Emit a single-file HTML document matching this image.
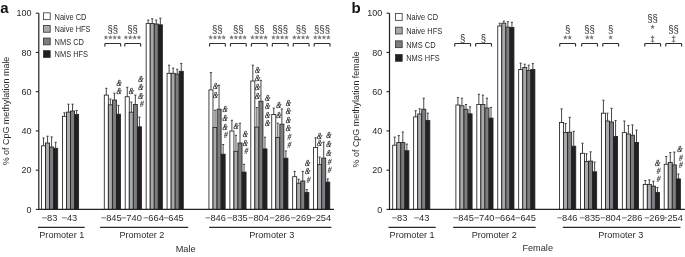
<!DOCTYPE html>
<html><head><meta charset="utf-8"><style>
html,body{margin:0;padding:0;background:#fff;}
svg{display:block;will-change:transform;}
</style></head><body>
<svg width="685" height="257" viewBox="0 0 685 257">
<rect width="685" height="257" fill="#fff"/>
<rect x="41.50" y="145.80" width="4.05" height="63.60" fill="#ffffff" stroke="#222" stroke-width="0.85"/>
<path d="M43.52 145.80 V138.00 M42.42 138.00 H44.62" stroke="#333" stroke-width="0.9" fill="none"/>
<rect x="45.55" y="143.00" width="4.05" height="66.40" fill="#a7a9ac" stroke="#222" stroke-width="0.85"/>
<path d="M47.57 143.00 V136.20 M46.47 136.20 H48.67" stroke="#333" stroke-width="0.9" fill="none"/>
<rect x="49.60" y="147.00" width="4.05" height="62.40" fill="#7c7d80" stroke="#222" stroke-width="0.85"/>
<path d="M51.62 147.00 V136.90 M50.52 136.90 H52.73" stroke="#333" stroke-width="0.9" fill="none"/>
<rect x="53.65" y="148.30" width="4.05" height="61.10" fill="#231f20" stroke="#222" stroke-width="0.85"/>
<path d="M55.67 148.30 V142.30 M54.57 142.30 H56.77" stroke="#333" stroke-width="0.9" fill="none"/>
<rect x="62.43" y="116.30" width="4.05" height="93.10" fill="#ffffff" stroke="#222" stroke-width="0.85"/>
<path d="M64.45 116.30 V112.80 M63.35 112.80 H65.55" stroke="#333" stroke-width="0.9" fill="none"/>
<rect x="66.48" y="112.10" width="4.05" height="97.30" fill="#a7a9ac" stroke="#222" stroke-width="0.85"/>
<path d="M68.51 112.10 V104.20 M67.41 104.20 H69.61" stroke="#333" stroke-width="0.9" fill="none"/>
<rect x="70.53" y="111.00" width="4.05" height="98.40" fill="#7c7d80" stroke="#222" stroke-width="0.85"/>
<path d="M72.56 111.00 V104.20 M71.46 104.20 H73.66" stroke="#333" stroke-width="0.9" fill="none"/>
<rect x="74.58" y="114.50" width="4.05" height="94.90" fill="#231f20" stroke="#222" stroke-width="0.85"/>
<path d="M76.61 114.50 V110.50 M75.51 110.50 H77.70" stroke="#333" stroke-width="0.9" fill="none"/>
<rect x="104.29" y="95.10" width="4.05" height="114.30" fill="#ffffff" stroke="#222" stroke-width="0.85"/>
<path d="M106.31 95.10 V88.30 M105.22 88.30 H107.41" stroke="#333" stroke-width="0.9" fill="none"/>
<rect x="108.34" y="104.80" width="4.05" height="104.60" fill="#a7a9ac" stroke="#222" stroke-width="0.85"/>
<path d="M110.36 104.80 V99.00 M109.27 99.00 H111.46" stroke="#333" stroke-width="0.9" fill="none"/>
<rect x="112.39" y="100.00" width="4.05" height="109.40" fill="#7c7d80" stroke="#222" stroke-width="0.85"/>
<path d="M114.41 100.00 V93.20 M113.31 93.20 H115.51" stroke="#333" stroke-width="0.9" fill="none"/>
<rect x="116.44" y="114.20" width="4.05" height="95.20" fill="#231f20" stroke="#222" stroke-width="0.85"/>
<path d="M118.47 114.20 V105.40 M117.37 105.40 H119.56" stroke="#333" stroke-width="0.9" fill="none"/>
<rect x="125.22" y="96.70" width="4.05" height="112.70" fill="#ffffff" stroke="#222" stroke-width="0.85"/>
<path d="M127.25 96.70 V87.30 M126.15 87.30 H128.34" stroke="#333" stroke-width="0.9" fill="none"/>
<rect x="129.27" y="112.20" width="4.05" height="97.20" fill="#a7a9ac" stroke="#222" stroke-width="0.85"/>
<path d="M131.30 112.20 V102.10 M130.20 102.10 H132.40" stroke="#333" stroke-width="0.9" fill="none"/>
<rect x="133.32" y="104.50" width="4.05" height="104.90" fill="#7c7d80" stroke="#222" stroke-width="0.85"/>
<path d="M135.34 104.50 V95.10 M134.25 95.10 H136.44" stroke="#333" stroke-width="0.9" fill="none"/>
<rect x="137.37" y="126.80" width="4.05" height="82.60" fill="#231f20" stroke="#222" stroke-width="0.85"/>
<path d="M139.40 126.80 V117.10 M138.30 117.10 H140.50" stroke="#333" stroke-width="0.9" fill="none"/>
<rect x="146.15" y="23.60" width="4.05" height="185.80" fill="#ffffff" stroke="#222" stroke-width="0.85"/>
<path d="M148.18 23.60 V20.10 M147.08 20.10 H149.28" stroke="#333" stroke-width="0.9" fill="none"/>
<rect x="150.20" y="23.60" width="4.05" height="185.80" fill="#a7a9ac" stroke="#222" stroke-width="0.85"/>
<path d="M152.23 23.60 V18.80 M151.13 18.80 H153.33" stroke="#333" stroke-width="0.9" fill="none"/>
<rect x="154.25" y="24.00" width="4.05" height="185.40" fill="#7c7d80" stroke="#222" stroke-width="0.85"/>
<path d="M156.28 24.00 V20.10 M155.18 20.10 H157.38" stroke="#333" stroke-width="0.9" fill="none"/>
<rect x="158.30" y="24.80" width="4.05" height="184.60" fill="#231f20" stroke="#222" stroke-width="0.85"/>
<path d="M160.33 24.80 V18.20 M159.23 18.20 H161.43" stroke="#333" stroke-width="0.9" fill="none"/>
<rect x="167.08" y="73.30" width="4.05" height="136.10" fill="#ffffff" stroke="#222" stroke-width="0.85"/>
<path d="M169.10 73.30 V65.20 M168.00 65.20 H170.20" stroke="#333" stroke-width="0.9" fill="none"/>
<rect x="171.13" y="73.30" width="4.05" height="136.10" fill="#a7a9ac" stroke="#222" stroke-width="0.85"/>
<path d="M173.16 73.30 V68.10 M172.06 68.10 H174.25" stroke="#333" stroke-width="0.9" fill="none"/>
<rect x="175.18" y="74.10" width="4.05" height="135.30" fill="#7c7d80" stroke="#222" stroke-width="0.85"/>
<path d="M177.20 74.10 V69.30 M176.10 69.30 H178.30" stroke="#333" stroke-width="0.9" fill="none"/>
<rect x="179.23" y="71.30" width="4.05" height="138.10" fill="#231f20" stroke="#222" stroke-width="0.85"/>
<path d="M181.25 71.30 V63.40 M180.16 63.40 H182.35" stroke="#333" stroke-width="0.9" fill="none"/>
<rect x="208.94" y="89.90" width="4.05" height="119.50" fill="#ffffff" stroke="#222" stroke-width="0.85"/>
<path d="M210.97 89.90 V72.60 M209.87 72.60 H212.06" stroke="#333" stroke-width="0.9" fill="none"/>
<rect x="212.99" y="127.50" width="4.05" height="81.90" fill="#a7a9ac" stroke="#222" stroke-width="0.85"/>
<path d="M215.02 127.50 V110.20 M213.92 110.20 H216.12" stroke="#333" stroke-width="0.9" fill="none"/>
<rect x="217.04" y="109.20" width="4.05" height="100.20" fill="#7c7d80" stroke="#222" stroke-width="0.85"/>
<path d="M219.06 109.20 V85.20 M217.97 85.20 H220.16" stroke="#333" stroke-width="0.9" fill="none"/>
<rect x="221.09" y="154.20" width="4.05" height="55.20" fill="#231f20" stroke="#222" stroke-width="0.85"/>
<path d="M223.12 154.20 V144.50 M222.02 144.50 H224.22" stroke="#333" stroke-width="0.9" fill="none"/>
<rect x="229.87" y="131.00" width="4.05" height="78.40" fill="#ffffff" stroke="#222" stroke-width="0.85"/>
<path d="M231.90 131.00 V120.30 M230.80 120.30 H233.00" stroke="#333" stroke-width="0.9" fill="none"/>
<rect x="233.92" y="151.30" width="4.05" height="58.10" fill="#a7a9ac" stroke="#222" stroke-width="0.85"/>
<path d="M235.95 151.30 V135.30 M234.85 135.30 H237.05" stroke="#333" stroke-width="0.9" fill="none"/>
<rect x="237.97" y="143.00" width="4.05" height="66.40" fill="#7c7d80" stroke="#222" stroke-width="0.85"/>
<path d="M240.00 143.00 V123.20 M238.90 123.20 H241.09" stroke="#333" stroke-width="0.9" fill="none"/>
<rect x="242.02" y="172.10" width="4.05" height="37.30" fill="#231f20" stroke="#222" stroke-width="0.85"/>
<path d="M244.05 172.10 V164.30 M242.95 164.30 H245.15" stroke="#333" stroke-width="0.9" fill="none"/>
<rect x="250.80" y="81.00" width="4.05" height="128.40" fill="#ffffff" stroke="#222" stroke-width="0.85"/>
<path d="M252.83 81.00 V65.20 M251.73 65.20 H253.93" stroke="#333" stroke-width="0.9" fill="none"/>
<rect x="254.85" y="127.10" width="4.05" height="82.30" fill="#a7a9ac" stroke="#222" stroke-width="0.85"/>
<path d="M256.88 127.10 V107.60 M255.78 107.60 H257.98" stroke="#333" stroke-width="0.9" fill="none"/>
<rect x="258.90" y="101.20" width="4.05" height="108.20" fill="#7c7d80" stroke="#222" stroke-width="0.85"/>
<path d="M260.93 101.20 V80.30 M259.82 80.30 H262.03" stroke="#333" stroke-width="0.9" fill="none"/>
<rect x="262.95" y="148.90" width="4.05" height="60.50" fill="#231f20" stroke="#222" stroke-width="0.85"/>
<path d="M264.97 148.90 V137.20 M263.87 137.20 H266.07" stroke="#333" stroke-width="0.9" fill="none"/>
<rect x="271.73" y="114.50" width="4.05" height="94.90" fill="#ffffff" stroke="#222" stroke-width="0.85"/>
<path d="M273.75 114.50 V108.20 M272.65 108.20 H274.86" stroke="#333" stroke-width="0.9" fill="none"/>
<rect x="275.78" y="137.40" width="4.05" height="72.00" fill="#a7a9ac" stroke="#222" stroke-width="0.85"/>
<path d="M277.81 137.40 V123.20 M276.70 123.20 H278.91" stroke="#333" stroke-width="0.9" fill="none"/>
<rect x="279.83" y="124.20" width="4.05" height="85.20" fill="#7c7d80" stroke="#222" stroke-width="0.85"/>
<path d="M281.86 124.20 V109.00 M280.75 109.00 H282.96" stroke="#333" stroke-width="0.9" fill="none"/>
<rect x="283.88" y="158.20" width="4.05" height="51.20" fill="#231f20" stroke="#222" stroke-width="0.85"/>
<path d="M285.90 158.20 V151.00 M284.80 151.00 H287.00" stroke="#333" stroke-width="0.9" fill="none"/>
<rect x="292.66" y="176.70" width="4.05" height="32.70" fill="#ffffff" stroke="#222" stroke-width="0.85"/>
<path d="M294.68 176.70 V171.40 M293.58 171.40 H295.78" stroke="#333" stroke-width="0.9" fill="none"/>
<rect x="296.71" y="183.20" width="4.05" height="26.20" fill="#a7a9ac" stroke="#222" stroke-width="0.85"/>
<path d="M298.73 183.20 V179.30 M297.63 179.30 H299.83" stroke="#333" stroke-width="0.9" fill="none"/>
<rect x="300.76" y="181.00" width="4.05" height="28.40" fill="#7c7d80" stroke="#222" stroke-width="0.85"/>
<path d="M302.78 181.00 V171.40 M301.68 171.40 H303.88" stroke="#333" stroke-width="0.9" fill="none"/>
<rect x="304.81" y="192.40" width="4.05" height="17.00" fill="#231f20" stroke="#222" stroke-width="0.85"/>
<path d="M306.83 192.40 V189.60 M305.73 189.60 H307.93" stroke="#333" stroke-width="0.9" fill="none"/>
<rect x="313.59" y="147.40" width="4.05" height="62.00" fill="#ffffff" stroke="#222" stroke-width="0.85"/>
<path d="M315.61 147.40 V137.80 M314.51 137.80 H316.71" stroke="#333" stroke-width="0.9" fill="none"/>
<rect x="317.64" y="164.60" width="4.05" height="44.80" fill="#a7a9ac" stroke="#222" stroke-width="0.85"/>
<path d="M319.66 164.60 V157.00 M318.56 157.00 H320.76" stroke="#333" stroke-width="0.9" fill="none"/>
<rect x="321.69" y="158.10" width="4.05" height="51.30" fill="#7c7d80" stroke="#222" stroke-width="0.85"/>
<path d="M323.71 158.10 V142.10 M322.61 142.10 H324.81" stroke="#333" stroke-width="0.9" fill="none"/>
<rect x="325.74" y="182.10" width="4.05" height="27.30" fill="#231f20" stroke="#222" stroke-width="0.85"/>
<path d="M327.76 182.10 V178.90 M326.66 178.90 H328.86" stroke="#333" stroke-width="0.9" fill="none"/>
<path d="M38.80 13.2 V209.40 H334.00" stroke="#222" stroke-width="1.2" fill="none"/>
<path d="M35.80 209.40 H38.80" stroke="#222" stroke-width="1.1"/>
<text transform="translate(31.50 212.65) scale(1 1.07)" text-anchor="end" font-size="9.0" fill="#2b2b2b" font-family="Liberation Sans, sans-serif">0</text>
<path d="M35.80 170.16 H38.80" stroke="#222" stroke-width="1.1"/>
<text transform="translate(31.50 173.41) scale(1 1.07)" text-anchor="end" font-size="9.0" fill="#2b2b2b" font-family="Liberation Sans, sans-serif">20</text>
<path d="M35.80 130.92 H38.80" stroke="#222" stroke-width="1.1"/>
<text transform="translate(31.50 134.17) scale(1 1.07)" text-anchor="end" font-size="9.0" fill="#2b2b2b" font-family="Liberation Sans, sans-serif">40</text>
<path d="M35.80 91.68 H38.80" stroke="#222" stroke-width="1.1"/>
<text transform="translate(31.50 94.93) scale(1 1.07)" text-anchor="end" font-size="9.0" fill="#2b2b2b" font-family="Liberation Sans, sans-serif">60</text>
<path d="M35.80 52.44 H38.80" stroke="#222" stroke-width="1.1"/>
<text transform="translate(31.50 55.69) scale(1 1.07)" text-anchor="end" font-size="9.0" fill="#2b2b2b" font-family="Liberation Sans, sans-serif">80</text>
<path d="M35.80 13.20 H38.80" stroke="#222" stroke-width="1.1"/>
<text transform="translate(31.50 16.45) scale(1 1.07)" text-anchor="end" font-size="9.0" fill="#2b2b2b" font-family="Liberation Sans, sans-serif">100</text>
<text transform="translate(57.35 220.7) scale(1 1.05)" text-anchor="end" font-size="9.3" fill="#2b2b2b" font-family="Liberation Sans, sans-serif">83</text>
<path d="M42.11 217.8 H46.91" stroke="#9a9a9a" stroke-width="1.35"/>
<text transform="translate(77.25 220.7) scale(1 1.05)" text-anchor="end" font-size="9.3" fill="#2b2b2b" font-family="Liberation Sans, sans-serif">43</text>
<path d="M62.01 217.8 H66.81" stroke="#9a9a9a" stroke-width="1.35"/>
<text transform="translate(121.65 220.7) scale(1 1.05)" text-anchor="end" font-size="9.3" fill="#2b2b2b" font-family="Liberation Sans, sans-serif">845</text>
<path d="M101.24 217.8 H106.04" stroke="#9a9a9a" stroke-width="1.35"/>
<text transform="translate(141.85 220.7) scale(1 1.05)" text-anchor="end" font-size="9.3" fill="#2b2b2b" font-family="Liberation Sans, sans-serif">740</text>
<path d="M121.44 217.8 H126.24" stroke="#9a9a9a" stroke-width="1.35"/>
<text transform="translate(163.85 220.7) scale(1 1.05)" text-anchor="end" font-size="9.3" fill="#2b2b2b" font-family="Liberation Sans, sans-serif">664</text>
<path d="M143.44 217.8 H148.24" stroke="#9a9a9a" stroke-width="1.35"/>
<text transform="translate(183.75 220.7) scale(1 1.05)" text-anchor="end" font-size="9.3" fill="#2b2b2b" font-family="Liberation Sans, sans-serif">645</text>
<path d="M163.34 217.8 H168.14" stroke="#9a9a9a" stroke-width="1.35"/>
<text transform="translate(225.95 220.7) scale(1 1.05)" text-anchor="end" font-size="9.3" fill="#2b2b2b" font-family="Liberation Sans, sans-serif">846</text>
<path d="M205.54 217.8 H210.34" stroke="#9a9a9a" stroke-width="1.35"/>
<text transform="translate(247.75 220.7) scale(1 1.05)" text-anchor="end" font-size="9.3" fill="#2b2b2b" font-family="Liberation Sans, sans-serif">835</text>
<path d="M227.34 217.8 H232.14" stroke="#9a9a9a" stroke-width="1.35"/>
<text transform="translate(268.95 220.7) scale(1 1.05)" text-anchor="end" font-size="9.3" fill="#2b2b2b" font-family="Liberation Sans, sans-serif">804</text>
<path d="M248.54 217.8 H253.34" stroke="#9a9a9a" stroke-width="1.35"/>
<text transform="translate(290.15 220.7) scale(1 1.05)" text-anchor="end" font-size="9.3" fill="#2b2b2b" font-family="Liberation Sans, sans-serif">286</text>
<path d="M269.74 217.8 H274.54" stroke="#9a9a9a" stroke-width="1.35"/>
<text transform="translate(311.35 220.7) scale(1 1.05)" text-anchor="end" font-size="9.3" fill="#2b2b2b" font-family="Liberation Sans, sans-serif">269</text>
<path d="M290.94 217.8 H295.74" stroke="#9a9a9a" stroke-width="1.35"/>
<text transform="translate(331.15 220.7) scale(1 1.05)" text-anchor="end" font-size="9.3" fill="#2b2b2b" font-family="Liberation Sans, sans-serif">254</text>
<path d="M310.74 217.8 H315.54" stroke="#9a9a9a" stroke-width="1.35"/>
<path d="M38.00 227.4 H84.70" stroke="#2a2a2a" stroke-width="1.1"/>
<text x="61.80" y="238.3" text-anchor="middle" font-size="9.1" fill="#2b2b2b" font-family="Liberation Sans, sans-serif">Promoter 1</text>
<path d="M100.10 227.4 H188.20" stroke="#2a2a2a" stroke-width="1.1"/>
<text x="141.90" y="238.3" text-anchor="middle" font-size="9.1" fill="#2b2b2b" font-family="Liberation Sans, sans-serif">Promoter 2</text>
<path d="M209.20 227.4 H331.40" stroke="#2a2a2a" stroke-width="1.1"/>
<text x="271.70" y="238.3" text-anchor="middle" font-size="9.1" fill="#2b2b2b" font-family="Liberation Sans, sans-serif">Promoter 3</text>
<text x="185.60" y="252.40" text-anchor="middle" font-size="9.2" fill="#2b2b2b" font-family="Liberation Sans, sans-serif">Male</text>
<text transform="translate(8.55 111.00) rotate(-90) scale(1 0.92)" x="0" y="0" text-anchor="middle" font-size="8.95" fill="#2b2b2b" font-family="Liberation Sans, sans-serif">% of CpG methylation male</text>
<text x="0.30" y="12.6" font-size="15" font-weight="bold" fill="#111" font-family="Liberation Sans, sans-serif">a</text>
<rect x="43.40" y="12.85" width="6.8" height="6.8" fill="#ffffff" stroke="#333" stroke-width="0.8"/>
<text transform="translate(54.60 19.60) scale(1 1.12)" font-size="7.45" fill="#2b2b2b" font-family="Liberation Sans, sans-serif">Naive CD</text>
<rect x="43.40" y="25.45" width="6.8" height="6.8" fill="#a7a9ac" stroke="#333" stroke-width="0.8"/>
<text transform="translate(54.60 32.20) scale(1 1.12)" font-size="7.45" fill="#2b2b2b" font-family="Liberation Sans, sans-serif">Naive HFS</text>
<rect x="43.40" y="38.05" width="6.8" height="6.8" fill="#7c7d80" stroke="#333" stroke-width="0.8"/>
<text transform="translate(54.60 44.80) scale(1 1.12)" font-size="7.45" fill="#2b2b2b" font-family="Liberation Sans, sans-serif">NMS CD</text>
<rect x="43.40" y="50.65" width="6.8" height="6.8" fill="#231f20" stroke="#333" stroke-width="0.8"/>
<text transform="translate(54.60 57.40) scale(1 1.12)" font-size="7.45" fill="#2b2b2b" font-family="Liberation Sans, sans-serif">NMS HFS</text>
<rect x="392.70" y="145.20" width="4.05" height="64.20" fill="#ffffff" stroke="#222" stroke-width="0.85"/>
<path d="M394.72 145.20 V137.10 M393.62 137.10 H395.82" stroke="#333" stroke-width="0.9" fill="none"/>
<rect x="396.75" y="142.60" width="4.05" height="66.80" fill="#a7a9ac" stroke="#222" stroke-width="0.85"/>
<path d="M398.77 142.60 V135.60 M397.67 135.60 H399.88" stroke="#333" stroke-width="0.9" fill="none"/>
<rect x="400.80" y="142.60" width="4.05" height="66.80" fill="#7c7d80" stroke="#222" stroke-width="0.85"/>
<path d="M402.82 142.60 V132.00 M401.72 132.00 H403.93" stroke="#333" stroke-width="0.9" fill="none"/>
<rect x="404.85" y="150.70" width="4.05" height="58.70" fill="#231f20" stroke="#222" stroke-width="0.85"/>
<path d="M406.87 150.70 V144.10 M405.77 144.10 H407.97" stroke="#333" stroke-width="0.9" fill="none"/>
<rect x="413.63" y="116.90" width="4.05" height="92.50" fill="#ffffff" stroke="#222" stroke-width="0.85"/>
<path d="M415.65 116.90 V110.70 M414.55 110.70 H416.75" stroke="#333" stroke-width="0.9" fill="none"/>
<rect x="417.68" y="114.00" width="4.05" height="95.40" fill="#a7a9ac" stroke="#222" stroke-width="0.85"/>
<path d="M419.70 114.00 V108.80 M418.60 108.80 H420.81" stroke="#333" stroke-width="0.9" fill="none"/>
<rect x="421.73" y="109.20" width="4.05" height="100.20" fill="#7c7d80" stroke="#222" stroke-width="0.85"/>
<path d="M423.75 109.20 V98.20 M422.65 98.20 H424.86" stroke="#333" stroke-width="0.9" fill="none"/>
<rect x="425.78" y="120.40" width="4.05" height="89.00" fill="#231f20" stroke="#222" stroke-width="0.85"/>
<path d="M427.80 120.40 V113.20 M426.70 113.20 H428.90" stroke="#333" stroke-width="0.9" fill="none"/>
<rect x="455.89" y="105.00" width="4.05" height="104.40" fill="#ffffff" stroke="#222" stroke-width="0.85"/>
<path d="M457.91 105.00 V97.60 M456.81 97.60 H459.01" stroke="#333" stroke-width="0.9" fill="none"/>
<rect x="459.94" y="105.80" width="4.05" height="103.60" fill="#a7a9ac" stroke="#222" stroke-width="0.85"/>
<path d="M461.96 105.80 V98.20 M460.86 98.20 H463.06" stroke="#333" stroke-width="0.9" fill="none"/>
<rect x="463.99" y="109.30" width="4.05" height="100.10" fill="#7c7d80" stroke="#222" stroke-width="0.85"/>
<path d="M466.01 109.30 V104.50 M464.91 104.50 H467.12" stroke="#333" stroke-width="0.9" fill="none"/>
<rect x="468.04" y="113.80" width="4.05" height="95.60" fill="#231f20" stroke="#222" stroke-width="0.85"/>
<path d="M470.06 113.80 V106.80 M468.96 106.80 H471.16" stroke="#333" stroke-width="0.9" fill="none"/>
<rect x="476.82" y="104.50" width="4.05" height="104.90" fill="#ffffff" stroke="#222" stroke-width="0.85"/>
<path d="M478.85 104.50 V94.30 M477.75 94.30 H479.95" stroke="#333" stroke-width="0.9" fill="none"/>
<rect x="480.87" y="104.50" width="4.05" height="104.90" fill="#a7a9ac" stroke="#222" stroke-width="0.85"/>
<path d="M482.90 104.50 V95.10 M481.80 95.10 H484.00" stroke="#333" stroke-width="0.9" fill="none"/>
<rect x="484.92" y="108.00" width="4.05" height="101.40" fill="#7c7d80" stroke="#222" stroke-width="0.85"/>
<path d="M486.95 108.00 V98.20 M485.85 98.20 H488.05" stroke="#333" stroke-width="0.9" fill="none"/>
<rect x="488.97" y="118.10" width="4.05" height="91.30" fill="#231f20" stroke="#222" stroke-width="0.85"/>
<path d="M491.00 118.10 V107.40 M489.89 107.40 H492.10" stroke="#333" stroke-width="0.9" fill="none"/>
<rect x="497.75" y="26.00" width="4.05" height="183.40" fill="#ffffff" stroke="#222" stroke-width="0.85"/>
<path d="M499.77 26.00 V23.20 M498.67 23.20 H500.88" stroke="#333" stroke-width="0.9" fill="none"/>
<rect x="501.80" y="23.20" width="4.05" height="186.20" fill="#a7a9ac" stroke="#222" stroke-width="0.85"/>
<path d="M503.82 23.20 V21.10 M502.72 21.10 H504.93" stroke="#333" stroke-width="0.9" fill="none"/>
<rect x="505.85" y="27.10" width="4.05" height="182.30" fill="#7c7d80" stroke="#222" stroke-width="0.85"/>
<path d="M507.88 27.10 V21.70 M506.77 21.70 H508.98" stroke="#333" stroke-width="0.9" fill="none"/>
<rect x="509.90" y="27.50" width="4.05" height="181.90" fill="#231f20" stroke="#222" stroke-width="0.85"/>
<path d="M511.92 27.50 V22.30 M510.82 22.30 H513.02" stroke="#333" stroke-width="0.9" fill="none"/>
<rect x="518.68" y="69.50" width="4.05" height="139.90" fill="#ffffff" stroke="#222" stroke-width="0.85"/>
<path d="M520.70 69.50 V63.20 M519.60 63.20 H521.80" stroke="#333" stroke-width="0.9" fill="none"/>
<rect x="522.73" y="67.50" width="4.05" height="141.90" fill="#a7a9ac" stroke="#222" stroke-width="0.85"/>
<path d="M524.75 67.50 V64.20 M523.65 64.20 H525.85" stroke="#333" stroke-width="0.9" fill="none"/>
<rect x="526.78" y="70.40" width="4.05" height="139.00" fill="#7c7d80" stroke="#222" stroke-width="0.85"/>
<path d="M528.80 70.40 V65.20 M527.70 65.20 H529.90" stroke="#333" stroke-width="0.9" fill="none"/>
<rect x="530.83" y="69.50" width="4.05" height="139.90" fill="#231f20" stroke="#222" stroke-width="0.85"/>
<path d="M532.85 69.50 V63.60 M531.75 63.60 H533.95" stroke="#333" stroke-width="0.9" fill="none"/>
<rect x="559.54" y="122.50" width="4.05" height="86.90" fill="#ffffff" stroke="#222" stroke-width="0.85"/>
<path d="M561.57 122.50 V108.90 M560.47 108.90 H562.67" stroke="#333" stroke-width="0.9" fill="none"/>
<rect x="563.59" y="132.60" width="4.05" height="76.80" fill="#a7a9ac" stroke="#222" stroke-width="0.85"/>
<path d="M565.62 132.60 V123.50 M564.51 123.50 H566.72" stroke="#333" stroke-width="0.9" fill="none"/>
<rect x="567.64" y="132.20" width="4.05" height="77.20" fill="#7c7d80" stroke="#222" stroke-width="0.85"/>
<path d="M569.67 132.20 V117.30 M568.57 117.30 H570.77" stroke="#333" stroke-width="0.9" fill="none"/>
<rect x="571.69" y="146.20" width="4.05" height="63.20" fill="#231f20" stroke="#222" stroke-width="0.85"/>
<path d="M573.72 146.20 V131.30 M572.62 131.30 H574.82" stroke="#333" stroke-width="0.9" fill="none"/>
<rect x="580.47" y="153.30" width="4.05" height="56.10" fill="#ffffff" stroke="#222" stroke-width="0.85"/>
<path d="M582.50 153.30 V143.20 M581.39 143.20 H583.60" stroke="#333" stroke-width="0.9" fill="none"/>
<rect x="584.52" y="161.50" width="4.05" height="47.90" fill="#a7a9ac" stroke="#222" stroke-width="0.85"/>
<path d="M586.54 161.50 V153.70 M585.44 153.70 H587.64" stroke="#333" stroke-width="0.9" fill="none"/>
<rect x="588.57" y="161.10" width="4.05" height="48.30" fill="#7c7d80" stroke="#222" stroke-width="0.85"/>
<path d="M590.60 161.10 V151.80 M589.50 151.80 H591.70" stroke="#333" stroke-width="0.9" fill="none"/>
<rect x="592.62" y="171.80" width="4.05" height="37.60" fill="#231f20" stroke="#222" stroke-width="0.85"/>
<path d="M594.64 171.80 V162.10 M593.54 162.10 H595.75" stroke="#333" stroke-width="0.9" fill="none"/>
<rect x="601.40" y="113.20" width="4.05" height="96.20" fill="#ffffff" stroke="#222" stroke-width="0.85"/>
<path d="M603.42 113.20 V100.20 M602.32 100.20 H604.52" stroke="#333" stroke-width="0.9" fill="none"/>
<rect x="605.45" y="121.00" width="4.05" height="88.40" fill="#a7a9ac" stroke="#222" stroke-width="0.85"/>
<path d="M607.47 121.00 V113.20 M606.37 113.20 H608.57" stroke="#333" stroke-width="0.9" fill="none"/>
<rect x="609.50" y="122.00" width="4.05" height="87.40" fill="#7c7d80" stroke="#222" stroke-width="0.85"/>
<path d="M611.52 122.00 V108.30 M610.42 108.30 H612.62" stroke="#333" stroke-width="0.9" fill="none"/>
<rect x="613.55" y="136.40" width="4.05" height="73.00" fill="#231f20" stroke="#222" stroke-width="0.85"/>
<path d="M615.57 136.40 V120.60 M614.47 120.60 H616.67" stroke="#333" stroke-width="0.9" fill="none"/>
<rect x="622.33" y="132.60" width="4.05" height="76.80" fill="#ffffff" stroke="#222" stroke-width="0.85"/>
<path d="M624.36 132.60 V121.00 M623.25 121.00 H625.46" stroke="#333" stroke-width="0.9" fill="none"/>
<rect x="626.38" y="134.00" width="4.05" height="75.40" fill="#a7a9ac" stroke="#222" stroke-width="0.85"/>
<path d="M628.40 134.00 V125.40 M627.30 125.40 H629.50" stroke="#333" stroke-width="0.9" fill="none"/>
<rect x="630.43" y="135.20" width="4.05" height="74.20" fill="#7c7d80" stroke="#222" stroke-width="0.85"/>
<path d="M632.46 135.20 V124.90 M631.36 124.90 H633.56" stroke="#333" stroke-width="0.9" fill="none"/>
<rect x="634.48" y="142.40" width="4.05" height="67.00" fill="#231f20" stroke="#222" stroke-width="0.85"/>
<path d="M636.50 142.40 V130.10 M635.40 130.10 H637.61" stroke="#333" stroke-width="0.9" fill="none"/>
<rect x="643.26" y="184.40" width="4.05" height="25.00" fill="#ffffff" stroke="#222" stroke-width="0.85"/>
<path d="M645.28 184.40 V180.50 M644.18 180.50 H646.38" stroke="#333" stroke-width="0.9" fill="none"/>
<rect x="647.31" y="184.40" width="4.05" height="25.00" fill="#a7a9ac" stroke="#222" stroke-width="0.85"/>
<path d="M649.33 184.40 V179.90 M648.23 179.90 H650.43" stroke="#333" stroke-width="0.9" fill="none"/>
<rect x="651.36" y="186.10" width="4.05" height="23.30" fill="#7c7d80" stroke="#222" stroke-width="0.85"/>
<path d="M653.38 186.10 V181.20 M652.28 181.20 H654.49" stroke="#333" stroke-width="0.9" fill="none"/>
<rect x="655.41" y="192.40" width="4.05" height="17.00" fill="#231f20" stroke="#222" stroke-width="0.85"/>
<path d="M657.43 192.40 V187.50 M656.33 187.50 H658.53" stroke="#333" stroke-width="0.9" fill="none"/>
<rect x="664.19" y="164.30" width="4.05" height="45.10" fill="#ffffff" stroke="#222" stroke-width="0.85"/>
<path d="M666.21 164.30 V156.50 M665.11 156.50 H667.31" stroke="#333" stroke-width="0.9" fill="none"/>
<rect x="668.24" y="162.40" width="4.05" height="47.00" fill="#a7a9ac" stroke="#222" stroke-width="0.85"/>
<path d="M670.26 162.40 V152.60 M669.16 152.60 H671.36" stroke="#333" stroke-width="0.9" fill="none"/>
<rect x="672.29" y="164.90" width="4.05" height="44.50" fill="#7c7d80" stroke="#222" stroke-width="0.85"/>
<path d="M674.31 164.90 V152.10 M673.21 152.10 H675.41" stroke="#333" stroke-width="0.9" fill="none"/>
<rect x="676.34" y="178.90" width="4.05" height="30.50" fill="#231f20" stroke="#222" stroke-width="0.85"/>
<path d="M678.36 178.90 V174.00 M677.26 174.00 H679.46" stroke="#333" stroke-width="0.9" fill="none"/>
<path d="M389.50 13.2 V209.40 H684.80" stroke="#222" stroke-width="1.2" fill="none"/>
<path d="M386.50 209.40 H389.50" stroke="#222" stroke-width="1.1"/>
<text transform="translate(382.20 212.65) scale(1 1.07)" text-anchor="end" font-size="9.0" fill="#2b2b2b" font-family="Liberation Sans, sans-serif">0</text>
<path d="M386.50 170.16 H389.50" stroke="#222" stroke-width="1.1"/>
<text transform="translate(382.20 173.41) scale(1 1.07)" text-anchor="end" font-size="9.0" fill="#2b2b2b" font-family="Liberation Sans, sans-serif">20</text>
<path d="M386.50 130.92 H389.50" stroke="#222" stroke-width="1.1"/>
<text transform="translate(382.20 134.17) scale(1 1.07)" text-anchor="end" font-size="9.0" fill="#2b2b2b" font-family="Liberation Sans, sans-serif">40</text>
<path d="M386.50 91.68 H389.50" stroke="#222" stroke-width="1.1"/>
<text transform="translate(382.20 94.93) scale(1 1.07)" text-anchor="end" font-size="9.0" fill="#2b2b2b" font-family="Liberation Sans, sans-serif">60</text>
<path d="M386.50 52.44 H389.50" stroke="#222" stroke-width="1.1"/>
<text transform="translate(382.20 55.69) scale(1 1.07)" text-anchor="end" font-size="9.0" fill="#2b2b2b" font-family="Liberation Sans, sans-serif">80</text>
<path d="M386.50 13.20 H389.50" stroke="#222" stroke-width="1.1"/>
<text transform="translate(382.20 16.45) scale(1 1.07)" text-anchor="end" font-size="9.0" fill="#2b2b2b" font-family="Liberation Sans, sans-serif">100</text>
<text transform="translate(407.35 220.7) scale(1 1.05)" text-anchor="end" font-size="9.3" fill="#2b2b2b" font-family="Liberation Sans, sans-serif">83</text>
<path d="M392.11 217.8 H396.91" stroke="#9a9a9a" stroke-width="1.35"/>
<text transform="translate(429.45 220.7) scale(1 1.05)" text-anchor="end" font-size="9.3" fill="#2b2b2b" font-family="Liberation Sans, sans-serif">43</text>
<path d="M414.21 217.8 H419.01" stroke="#9a9a9a" stroke-width="1.35"/>
<text transform="translate(473.85 220.7) scale(1 1.05)" text-anchor="end" font-size="9.3" fill="#2b2b2b" font-family="Liberation Sans, sans-serif">845</text>
<path d="M453.44 217.8 H458.24" stroke="#9a9a9a" stroke-width="1.35"/>
<text transform="translate(494.55 220.7) scale(1 1.05)" text-anchor="end" font-size="9.3" fill="#2b2b2b" font-family="Liberation Sans, sans-serif">740</text>
<path d="M474.14 217.8 H478.94" stroke="#9a9a9a" stroke-width="1.35"/>
<text transform="translate(515.55 220.7) scale(1 1.05)" text-anchor="end" font-size="9.3" fill="#2b2b2b" font-family="Liberation Sans, sans-serif">664</text>
<path d="M495.14 217.8 H499.94" stroke="#9a9a9a" stroke-width="1.35"/>
<text transform="translate(535.95 220.7) scale(1 1.05)" text-anchor="end" font-size="9.3" fill="#2b2b2b" font-family="Liberation Sans, sans-serif">645</text>
<path d="M515.54 217.8 H520.34" stroke="#9a9a9a" stroke-width="1.35"/>
<text transform="translate(577.55 220.7) scale(1 1.05)" text-anchor="end" font-size="9.3" fill="#2b2b2b" font-family="Liberation Sans, sans-serif">846</text>
<path d="M557.14 217.8 H561.94" stroke="#9a9a9a" stroke-width="1.35"/>
<text transform="translate(600.25 220.7) scale(1 1.05)" text-anchor="end" font-size="9.3" fill="#2b2b2b" font-family="Liberation Sans, sans-serif">835</text>
<path d="M579.84 217.8 H584.64" stroke="#9a9a9a" stroke-width="1.35"/>
<text transform="translate(620.95 220.7) scale(1 1.05)" text-anchor="end" font-size="9.3" fill="#2b2b2b" font-family="Liberation Sans, sans-serif">804</text>
<path d="M600.54 217.8 H605.34" stroke="#9a9a9a" stroke-width="1.35"/>
<text transform="translate(642.45 220.7) scale(1 1.05)" text-anchor="end" font-size="9.3" fill="#2b2b2b" font-family="Liberation Sans, sans-serif">286</text>
<path d="M622.04 217.8 H626.84" stroke="#9a9a9a" stroke-width="1.35"/>
<text transform="translate(664.85 220.7) scale(1 1.05)" text-anchor="end" font-size="9.3" fill="#2b2b2b" font-family="Liberation Sans, sans-serif">269</text>
<path d="M644.44 217.8 H649.24" stroke="#9a9a9a" stroke-width="1.35"/>
<text transform="translate(682.95 220.7) scale(1 1.05)" text-anchor="end" font-size="9.3" fill="#2b2b2b" font-family="Liberation Sans, sans-serif">254</text>
<path d="M662.54 217.8 H667.34" stroke="#9a9a9a" stroke-width="1.35"/>
<path d="M388.50 227.4 H435.70" stroke="#2a2a2a" stroke-width="1.1"/>
<text x="412.10" y="238.3" text-anchor="middle" font-size="9.1" fill="#2b2b2b" font-family="Liberation Sans, sans-serif">Promoter 1</text>
<path d="M453.20 227.4 H535.70" stroke="#2a2a2a" stroke-width="1.1"/>
<text x="494.20" y="238.3" text-anchor="middle" font-size="9.1" fill="#2b2b2b" font-family="Liberation Sans, sans-serif">Promoter 2</text>
<path d="M562.80 227.4 H680.50" stroke="#2a2a2a" stroke-width="1.1"/>
<text x="620.70" y="238.3" text-anchor="middle" font-size="9.1" fill="#2b2b2b" font-family="Liberation Sans, sans-serif">Promoter 3</text>
<text x="537.70" y="251.20" text-anchor="middle" font-size="9.2" fill="#2b2b2b" font-family="Liberation Sans, sans-serif">Female</text>
<text transform="translate(359.05 109.40) rotate(-90) scale(1 0.92)" x="0" y="0" text-anchor="middle" font-size="8.95" fill="#2b2b2b" font-family="Liberation Sans, sans-serif">% of CpG methylation female</text>
<text x="351.50" y="12.6" font-size="15" font-weight="bold" fill="#111" font-family="Liberation Sans, sans-serif">b</text>
<rect x="395.40" y="13.55" width="6.8" height="6.8" fill="#ffffff" stroke="#333" stroke-width="0.8"/>
<text transform="translate(406.20 20.30) scale(1 1.12)" font-size="7.45" fill="#2b2b2b" font-family="Liberation Sans, sans-serif">Naive CD</text>
<rect x="395.40" y="27.20" width="6.8" height="6.8" fill="#a7a9ac" stroke="#333" stroke-width="0.8"/>
<text transform="translate(406.20 33.95) scale(1 1.12)" font-size="7.45" fill="#2b2b2b" font-family="Liberation Sans, sans-serif">Naive HFS</text>
<rect x="395.40" y="40.85" width="6.8" height="6.8" fill="#7c7d80" stroke="#333" stroke-width="0.8"/>
<text transform="translate(406.20 47.60) scale(1 1.12)" font-size="7.45" fill="#2b2b2b" font-family="Liberation Sans, sans-serif">NMS CD</text>
<rect x="395.40" y="54.50" width="6.8" height="6.8" fill="#231f20" stroke="#333" stroke-width="0.8"/>
<text transform="translate(406.20 61.25) scale(1 1.12)" font-size="7.45" fill="#2b2b2b" font-family="Liberation Sans, sans-serif">NMS HFS</text>
<path d="M104.89 46.60 V44.20 Q104.89 43.50 105.59 43.50 H119.99 Q120.69 43.50 120.69 44.20 V46.60" fill="none" stroke="#2e2e2e" stroke-width="1.15"/>
<text transform="translate(112.69 32.60) scale(1 1.1)" text-anchor="middle" font-size="9.5" fill="#2e2e2e" font-family="Liberation Sans, sans-serif">§§</text>
<polygon points="105.95,34.95 106.60,36.51 108.28,36.64 107.00,37.74 107.39,39.38 105.95,38.50 104.51,39.38 104.90,37.74 103.62,36.64 105.30,36.51" fill="#7a7a7a"/>
<polygon points="110.32,34.95 110.97,36.51 112.65,36.64 111.37,37.74 111.76,39.38 110.32,38.50 108.88,39.38 109.27,37.74 107.99,36.64 109.67,36.51" fill="#7a7a7a"/>
<polygon points="114.69,34.95 115.34,36.51 117.02,36.64 115.74,37.74 116.13,39.38 114.69,38.50 113.25,39.38 113.64,37.74 112.36,36.64 114.04,36.51" fill="#7a7a7a"/>
<polygon points="119.06,34.95 119.71,36.51 121.39,36.64 120.11,37.74 120.50,39.38 119.06,38.50 117.62,39.38 118.01,37.74 116.73,36.64 118.41,36.51" fill="#7a7a7a"/>
<path d="M124.82 46.60 V44.20 Q124.82 43.50 125.52 43.50 H139.92 Q140.62 43.50 140.62 44.20 V46.60" fill="none" stroke="#2e2e2e" stroke-width="1.15"/>
<text transform="translate(132.62 32.60) scale(1 1.1)" text-anchor="middle" font-size="9.5" fill="#2e2e2e" font-family="Liberation Sans, sans-serif">§§</text>
<polygon points="125.88,34.95 126.53,36.51 128.21,36.64 126.93,37.74 127.32,39.38 125.88,38.50 124.44,39.38 124.83,37.74 123.55,36.64 125.23,36.51" fill="#7a7a7a"/>
<polygon points="130.25,34.95 130.90,36.51 132.58,36.64 131.30,37.74 131.69,39.38 130.25,38.50 128.81,39.38 129.20,37.74 127.92,36.64 129.60,36.51" fill="#7a7a7a"/>
<polygon points="134.62,34.95 135.27,36.51 136.95,36.64 135.67,37.74 136.06,39.38 134.62,38.50 133.18,39.38 133.57,37.74 132.29,36.64 133.97,36.51" fill="#7a7a7a"/>
<polygon points="138.99,34.95 139.64,36.51 141.32,36.64 140.04,37.74 140.43,39.38 138.99,38.50 137.55,39.38 137.94,37.74 136.66,36.64 138.34,36.51" fill="#7a7a7a"/>
<path d="M209.54 46.60 V44.20 Q209.54 43.50 210.24 43.50 H224.64 Q225.34 43.50 225.34 44.20 V46.60" fill="none" stroke="#2e2e2e" stroke-width="1.15"/>
<text transform="translate(217.34 32.60) scale(1 1.1)" text-anchor="middle" font-size="9.5" fill="#2e2e2e" font-family="Liberation Sans, sans-serif">§§</text>
<polygon points="210.60,34.95 211.25,36.51 212.93,36.64 211.65,37.74 212.04,39.38 210.60,38.50 209.16,39.38 209.55,37.74 208.27,36.64 209.95,36.51" fill="#7a7a7a"/>
<polygon points="214.97,34.95 215.62,36.51 217.30,36.64 216.02,37.74 216.41,39.38 214.97,38.50 213.53,39.38 213.92,37.74 212.64,36.64 214.32,36.51" fill="#7a7a7a"/>
<polygon points="219.34,34.95 219.99,36.51 221.67,36.64 220.39,37.74 220.78,39.38 219.34,38.50 217.90,39.38 218.29,37.74 217.01,36.64 218.69,36.51" fill="#7a7a7a"/>
<polygon points="223.71,34.95 224.36,36.51 226.04,36.64 224.76,37.74 225.15,39.38 223.71,38.50 222.27,39.38 222.66,37.74 221.38,36.64 223.06,36.51" fill="#7a7a7a"/>
<path d="M230.47 46.60 V44.20 Q230.47 43.50 231.17 43.50 H245.57 Q246.27 43.50 246.27 44.20 V46.60" fill="none" stroke="#2e2e2e" stroke-width="1.15"/>
<text transform="translate(238.27 32.60) scale(1 1.1)" text-anchor="middle" font-size="9.5" fill="#2e2e2e" font-family="Liberation Sans, sans-serif">§§</text>
<polygon points="231.53,34.95 232.18,36.51 233.86,36.64 232.58,37.74 232.97,39.38 231.53,38.50 230.09,39.38 230.48,37.74 229.20,36.64 230.88,36.51" fill="#7a7a7a"/>
<polygon points="235.90,34.95 236.55,36.51 238.23,36.64 236.95,37.74 237.34,39.38 235.90,38.50 234.46,39.38 234.85,37.74 233.57,36.64 235.25,36.51" fill="#7a7a7a"/>
<polygon points="240.27,34.95 240.92,36.51 242.60,36.64 241.32,37.74 241.71,39.38 240.27,38.50 238.83,39.38 239.22,37.74 237.94,36.64 239.62,36.51" fill="#7a7a7a"/>
<polygon points="244.64,34.95 245.29,36.51 246.97,36.64 245.69,37.74 246.08,39.38 244.64,38.50 243.20,39.38 243.59,37.74 242.31,36.64 243.99,36.51" fill="#7a7a7a"/>
<path d="M251.40 46.60 V44.20 Q251.40 43.50 252.10 43.50 H266.50 Q267.20 43.50 267.20 44.20 V46.60" fill="none" stroke="#2e2e2e" stroke-width="1.15"/>
<text transform="translate(259.20 32.60) scale(1 1.1)" text-anchor="middle" font-size="9.5" fill="#2e2e2e" font-family="Liberation Sans, sans-serif">§§</text>
<polygon points="252.46,34.95 253.11,36.51 254.79,36.64 253.51,37.74 253.90,39.38 252.46,38.50 251.02,39.38 251.41,37.74 250.13,36.64 251.81,36.51" fill="#7a7a7a"/>
<polygon points="256.83,34.95 257.48,36.51 259.16,36.64 257.88,37.74 258.27,39.38 256.83,38.50 255.39,39.38 255.78,37.74 254.50,36.64 256.18,36.51" fill="#7a7a7a"/>
<polygon points="261.20,34.95 261.85,36.51 263.53,36.64 262.25,37.74 262.64,39.38 261.20,38.50 259.76,39.38 260.15,37.74 258.87,36.64 260.55,36.51" fill="#7a7a7a"/>
<polygon points="265.57,34.95 266.22,36.51 267.90,36.64 266.62,37.74 267.01,39.38 265.57,38.50 264.13,39.38 264.52,37.74 263.24,36.64 264.92,36.51" fill="#7a7a7a"/>
<path d="M272.33 46.60 V44.20 Q272.33 43.50 273.03 43.50 H287.43 Q288.13 43.50 288.13 44.20 V46.60" fill="none" stroke="#2e2e2e" stroke-width="1.15"/>
<text transform="translate(280.13 32.60) scale(1 1.1)" text-anchor="middle" font-size="9.5" fill="#2e2e2e" font-family="Liberation Sans, sans-serif">§§§</text>
<polygon points="273.39,34.95 274.04,36.51 275.72,36.64 274.44,37.74 274.83,39.38 273.39,38.50 271.95,39.38 272.34,37.74 271.06,36.64 272.74,36.51" fill="#7a7a7a"/>
<polygon points="277.76,34.95 278.41,36.51 280.09,36.64 278.81,37.74 279.20,39.38 277.76,38.50 276.32,39.38 276.71,37.74 275.43,36.64 277.11,36.51" fill="#7a7a7a"/>
<polygon points="282.13,34.95 282.78,36.51 284.46,36.64 283.18,37.74 283.57,39.38 282.13,38.50 280.69,39.38 281.08,37.74 279.80,36.64 281.48,36.51" fill="#7a7a7a"/>
<polygon points="286.50,34.95 287.15,36.51 288.83,36.64 287.55,37.74 287.94,39.38 286.50,38.50 285.06,39.38 285.45,37.74 284.17,36.64 285.85,36.51" fill="#7a7a7a"/>
<path d="M293.26 46.60 V44.20 Q293.26 43.50 293.96 43.50 H308.36 Q309.06 43.50 309.06 44.20 V46.60" fill="none" stroke="#2e2e2e" stroke-width="1.15"/>
<text transform="translate(301.06 32.60) scale(1 1.1)" text-anchor="middle" font-size="9.5" fill="#2e2e2e" font-family="Liberation Sans, sans-serif">§§</text>
<polygon points="294.32,34.95 294.97,36.51 296.65,36.64 295.37,37.74 295.76,39.38 294.32,38.50 292.88,39.38 293.27,37.74 291.99,36.64 293.67,36.51" fill="#7a7a7a"/>
<polygon points="298.69,34.95 299.34,36.51 301.02,36.64 299.74,37.74 300.13,39.38 298.69,38.50 297.25,39.38 297.64,37.74 296.36,36.64 298.04,36.51" fill="#7a7a7a"/>
<polygon points="303.06,34.95 303.71,36.51 305.39,36.64 304.11,37.74 304.50,39.38 303.06,38.50 301.62,39.38 302.01,37.74 300.73,36.64 302.41,36.51" fill="#7a7a7a"/>
<polygon points="307.43,34.95 308.08,36.51 309.76,36.64 308.48,37.74 308.87,39.38 307.43,38.50 305.99,39.38 306.38,37.74 305.10,36.64 306.78,36.51" fill="#7a7a7a"/>
<path d="M314.19 46.60 V44.20 Q314.19 43.50 314.89 43.50 H329.29 Q329.99 43.50 329.99 44.20 V46.60" fill="none" stroke="#2e2e2e" stroke-width="1.15"/>
<text transform="translate(321.99 32.60) scale(1 1.1)" text-anchor="middle" font-size="9.5" fill="#2e2e2e" font-family="Liberation Sans, sans-serif">§§§</text>
<polygon points="315.25,34.95 315.90,36.51 317.58,36.64 316.30,37.74 316.69,39.38 315.25,38.50 313.81,39.38 314.20,37.74 312.92,36.64 314.60,36.51" fill="#7a7a7a"/>
<polygon points="319.62,34.95 320.27,36.51 321.95,36.64 320.67,37.74 321.06,39.38 319.62,38.50 318.18,39.38 318.57,37.74 317.29,36.64 318.97,36.51" fill="#7a7a7a"/>
<polygon points="323.99,34.95 324.64,36.51 326.32,36.64 325.04,37.74 325.43,39.38 323.99,38.50 322.55,39.38 322.94,37.74 321.66,36.64 323.34,36.51" fill="#7a7a7a"/>
<polygon points="328.36,34.95 329.01,36.51 330.69,36.64 329.41,37.74 329.80,39.38 328.36,38.50 326.92,39.38 327.31,37.74 326.03,36.64 327.71,36.51" fill="#7a7a7a"/>
<text transform="translate(118.80 85.80) scale(0.74 1) skewX(-8)" text-anchor="middle" font-size="9.2" fill="#222" stroke="#222" stroke-width="0.15" font-family="Liberation Serif, serif" font-style="italic">&amp;</text>
<text transform="translate(118.80 94.20) scale(0.74 1) skewX(-8)" text-anchor="middle" font-size="9.2" fill="#222" stroke="#222" stroke-width="0.15" font-family="Liberation Serif, serif" font-style="italic">&amp;</text>
<text transform="translate(131.10 94.20) scale(0.74 1) skewX(-8)" text-anchor="middle" font-size="9.2" fill="#222" stroke="#222" stroke-width="0.15" font-family="Liberation Serif, serif" font-style="italic">&amp;</text>
<text transform="translate(140.70 82.00) scale(0.74 1) skewX(-8)" text-anchor="middle" font-size="9.2" fill="#222" stroke="#222" stroke-width="0.15" font-family="Liberation Serif, serif" font-style="italic">&amp;</text>
<text transform="translate(140.70 90.00) scale(0.74 1) skewX(-8)" text-anchor="middle" font-size="9.2" fill="#222" stroke="#222" stroke-width="0.15" font-family="Liberation Serif, serif" font-style="italic">&amp;</text>
<text transform="translate(140.70 98.80) scale(0.74 1) skewX(-8)" text-anchor="middle" font-size="9.2" fill="#222" stroke="#222" stroke-width="0.15" font-family="Liberation Serif, serif" font-style="italic">&amp;</text>
<text transform="translate(141.30 107.40) scale(0.78 1) skewX(-12)" text-anchor="middle" font-size="9.6" fill="#222" stroke="#333" stroke-width="0.12" font-family="Liberation Serif, serif">#</text>
<text transform="translate(215.50 88.80) scale(0.74 1) skewX(-8)" text-anchor="middle" font-size="9.2" fill="#222" stroke="#222" stroke-width="0.15" font-family="Liberation Serif, serif" font-style="italic">&amp;</text>
<text transform="translate(215.50 98.30) scale(0.74 1) skewX(-8)" text-anchor="middle" font-size="9.2" fill="#222" stroke="#222" stroke-width="0.15" font-family="Liberation Serif, serif" font-style="italic">&amp;</text>
<text transform="translate(224.80 112.20) scale(0.74 1) skewX(-8)" text-anchor="middle" font-size="9.2" fill="#222" stroke="#222" stroke-width="0.15" font-family="Liberation Serif, serif" font-style="italic">&amp;</text>
<text transform="translate(224.80 120.60) scale(0.74 1) skewX(-8)" text-anchor="middle" font-size="9.2" fill="#222" stroke="#222" stroke-width="0.15" font-family="Liberation Serif, serif" font-style="italic">&amp;</text>
<text transform="translate(224.80 129.50) scale(0.74 1) skewX(-8)" text-anchor="middle" font-size="9.2" fill="#222" stroke="#222" stroke-width="0.15" font-family="Liberation Serif, serif" font-style="italic">&amp;</text>
<text transform="translate(225.40 138.20) scale(0.78 1) skewX(-12)" text-anchor="middle" font-size="9.6" fill="#222" stroke="#333" stroke-width="0.12" font-family="Liberation Serif, serif">#</text>
<text transform="translate(236.00 128.50) scale(0.74 1) skewX(-8)" text-anchor="middle" font-size="9.2" fill="#222" stroke="#222" stroke-width="0.15" font-family="Liberation Serif, serif" font-style="italic">&amp;</text>
<text transform="translate(245.20 137.30) scale(0.74 1) skewX(-8)" text-anchor="middle" font-size="9.2" fill="#222" stroke="#222" stroke-width="0.15" font-family="Liberation Serif, serif" font-style="italic">&amp;</text>
<text transform="translate(245.20 145.80) scale(0.74 1) skewX(-8)" text-anchor="middle" font-size="9.2" fill="#222" stroke="#222" stroke-width="0.15" font-family="Liberation Serif, serif" font-style="italic">&amp;</text>
<text transform="translate(245.80 154.30) scale(0.78 1) skewX(-12)" text-anchor="middle" font-size="9.6" fill="#222" stroke="#333" stroke-width="0.12" font-family="Liberation Serif, serif">#</text>
<text transform="translate(257.50 73.20) scale(0.74 1) skewX(-8)" text-anchor="middle" font-size="9.2" fill="#222" stroke="#222" stroke-width="0.15" font-family="Liberation Serif, serif" font-style="italic">&amp;</text>
<text transform="translate(257.50 81.40) scale(0.74 1) skewX(-8)" text-anchor="middle" font-size="9.2" fill="#222" stroke="#222" stroke-width="0.15" font-family="Liberation Serif, serif" font-style="italic">&amp;</text>
<text transform="translate(257.50 89.70) scale(0.74 1) skewX(-8)" text-anchor="middle" font-size="9.2" fill="#222" stroke="#222" stroke-width="0.15" font-family="Liberation Serif, serif" font-style="italic">&amp;</text>
<text transform="translate(257.50 98.60) scale(0.74 1) skewX(-8)" text-anchor="middle" font-size="9.2" fill="#222" stroke="#222" stroke-width="0.15" font-family="Liberation Serif, serif" font-style="italic">&amp;</text>
<text transform="translate(267.30 100.50) scale(0.74 1) skewX(-8)" text-anchor="middle" font-size="9.2" fill="#222" stroke="#222" stroke-width="0.15" font-family="Liberation Serif, serif" font-style="italic">&amp;</text>
<text transform="translate(267.30 108.70) scale(0.74 1) skewX(-8)" text-anchor="middle" font-size="9.2" fill="#222" stroke="#222" stroke-width="0.15" font-family="Liberation Serif, serif" font-style="italic">&amp;</text>
<text transform="translate(267.30 117.50) scale(0.74 1) skewX(-8)" text-anchor="middle" font-size="9.2" fill="#222" stroke="#222" stroke-width="0.15" font-family="Liberation Serif, serif" font-style="italic">&amp;</text>
<text transform="translate(267.30 126.20) scale(0.74 1) skewX(-8)" text-anchor="middle" font-size="9.2" fill="#222" stroke="#222" stroke-width="0.15" font-family="Liberation Serif, serif" font-style="italic">&amp;</text>
<text transform="translate(278.60 108.30) scale(0.74 1) skewX(-8)" text-anchor="middle" font-size="9.2" fill="#222" stroke="#222" stroke-width="0.15" font-family="Liberation Serif, serif" font-style="italic">&amp;</text>
<text transform="translate(278.60 118.20) scale(0.74 1) skewX(-8)" text-anchor="middle" font-size="9.2" fill="#222" stroke="#222" stroke-width="0.15" font-family="Liberation Serif, serif" font-style="italic">&amp;</text>
<text transform="translate(288.20 106.10) scale(0.74 1) skewX(-8)" text-anchor="middle" font-size="9.2" fill="#222" stroke="#222" stroke-width="0.15" font-family="Liberation Serif, serif" font-style="italic">&amp;</text>
<text transform="translate(288.20 114.10) scale(0.74 1) skewX(-8)" text-anchor="middle" font-size="9.2" fill="#222" stroke="#222" stroke-width="0.15" font-family="Liberation Serif, serif" font-style="italic">&amp;</text>
<text transform="translate(288.20 122.60) scale(0.74 1) skewX(-8)" text-anchor="middle" font-size="9.2" fill="#222" stroke="#222" stroke-width="0.15" font-family="Liberation Serif, serif" font-style="italic">&amp;</text>
<text transform="translate(288.20 131.20) scale(0.74 1) skewX(-8)" text-anchor="middle" font-size="9.2" fill="#222" stroke="#222" stroke-width="0.15" font-family="Liberation Serif, serif" font-style="italic">&amp;</text>
<text transform="translate(288.80 139.70) scale(0.78 1) skewX(-12)" text-anchor="middle" font-size="9.6" fill="#222" stroke="#333" stroke-width="0.12" font-family="Liberation Serif, serif">#</text>
<text transform="translate(288.80 148.10) scale(0.78 1) skewX(-12)" text-anchor="middle" font-size="9.6" fill="#222" stroke="#333" stroke-width="0.12" font-family="Liberation Serif, serif">#</text>
<text transform="translate(307.50 165.50) scale(0.74 1) skewX(-8)" text-anchor="middle" font-size="9.2" fill="#222" stroke="#222" stroke-width="0.15" font-family="Liberation Serif, serif" font-style="italic">&amp;</text>
<text transform="translate(307.50 173.80) scale(0.74 1) skewX(-8)" text-anchor="middle" font-size="9.2" fill="#222" stroke="#222" stroke-width="0.15" font-family="Liberation Serif, serif" font-style="italic">&amp;</text>
<text transform="translate(308.10 182.60) scale(0.78 1) skewX(-12)" text-anchor="middle" font-size="9.6" fill="#222" stroke="#333" stroke-width="0.12" font-family="Liberation Serif, serif">#</text>
<text transform="translate(319.50 138.50) scale(0.74 1) skewX(-8)" text-anchor="middle" font-size="9.2" fill="#222" stroke="#222" stroke-width="0.15" font-family="Liberation Serif, serif" font-style="italic">&amp;</text>
<text transform="translate(319.50 146.30) scale(0.74 1) skewX(-8)" text-anchor="middle" font-size="9.2" fill="#222" stroke="#222" stroke-width="0.15" font-family="Liberation Serif, serif" font-style="italic">&amp;</text>
<text transform="translate(328.60 137.70) scale(0.74 1) skewX(-8)" text-anchor="middle" font-size="9.2" fill="#222" stroke="#222" stroke-width="0.15" font-family="Liberation Serif, serif" font-style="italic">&amp;</text>
<text transform="translate(328.60 146.70) scale(0.74 1) skewX(-8)" text-anchor="middle" font-size="9.2" fill="#222" stroke="#222" stroke-width="0.15" font-family="Liberation Serif, serif" font-style="italic">&amp;</text>
<text transform="translate(328.60 155.70) scale(0.74 1) skewX(-8)" text-anchor="middle" font-size="9.2" fill="#222" stroke="#222" stroke-width="0.15" font-family="Liberation Serif, serif" font-style="italic">&amp;</text>
<text transform="translate(329.20 164.70) scale(0.78 1) skewX(-12)" text-anchor="middle" font-size="9.6" fill="#222" stroke="#333" stroke-width="0.12" font-family="Liberation Serif, serif">#</text>
<text transform="translate(329.20 173.00) scale(0.78 1) skewX(-12)" text-anchor="middle" font-size="9.6" fill="#222" stroke="#333" stroke-width="0.12" font-family="Liberation Serif, serif">#</text>
<path d="M454.74 46.60 V44.20 Q454.74 43.50 455.44 43.50 H469.84 Q470.54 43.50 470.54 44.20 V46.60" fill="none" stroke="#2e2e2e" stroke-width="1.15"/>
<text transform="translate(462.54 42.00) scale(1 1.1)" text-anchor="middle" font-size="9.5" fill="#2e2e2e" font-family="Liberation Sans, sans-serif">§</text>
<path d="M475.67 46.60 V44.20 Q475.67 43.50 476.37 43.50 H490.77 Q491.47 43.50 491.47 44.20 V46.60" fill="none" stroke="#2e2e2e" stroke-width="1.15"/>
<text transform="translate(483.47 42.00) scale(1 1.1)" text-anchor="middle" font-size="9.5" fill="#2e2e2e" font-family="Liberation Sans, sans-serif">§</text>
<path d="M559.74 46.60 V44.20 Q559.74 43.50 560.44 43.50 H574.84 Q575.54 43.50 575.54 44.20 V46.60" fill="none" stroke="#2e2e2e" stroke-width="1.15"/>
<text transform="translate(567.54 32.60) scale(1 1.1)" text-anchor="middle" font-size="9.5" fill="#2e2e2e" font-family="Liberation Sans, sans-serif">§</text>
<polygon points="565.36,34.95 566.01,36.51 567.69,36.64 566.41,37.74 566.80,39.38 565.36,38.50 563.92,39.38 564.31,37.74 563.03,36.64 564.71,36.51" fill="#7a7a7a"/>
<polygon points="569.73,34.95 570.38,36.51 572.06,36.64 570.78,37.74 571.17,39.38 569.73,38.50 568.29,39.38 568.68,37.74 567.40,36.64 569.08,36.51" fill="#7a7a7a"/>
<path d="M581.67 46.60 V44.20 Q581.67 43.50 582.37 43.50 H596.77 Q597.47 43.50 597.47 44.20 V46.60" fill="none" stroke="#2e2e2e" stroke-width="1.15"/>
<text transform="translate(589.47 32.60) scale(1 1.1)" text-anchor="middle" font-size="9.5" fill="#2e2e2e" font-family="Liberation Sans, sans-serif">§§</text>
<polygon points="587.29,34.95 587.94,36.51 589.62,36.64 588.34,37.74 588.73,39.38 587.29,38.50 585.85,39.38 586.24,37.74 584.96,36.64 586.64,36.51" fill="#7a7a7a"/>
<polygon points="591.66,34.95 592.31,36.51 593.99,36.64 592.71,37.74 593.10,39.38 591.66,38.50 590.22,39.38 590.61,37.74 589.33,36.64 591.01,36.51" fill="#7a7a7a"/>
<path d="M602.80 46.60 V44.20 Q602.80 43.50 603.50 43.50 H617.90 Q618.60 43.50 618.60 44.20 V46.60" fill="none" stroke="#2e2e2e" stroke-width="1.15"/>
<text transform="translate(610.60 32.60) scale(1 1.1)" text-anchor="middle" font-size="9.5" fill="#2e2e2e" font-family="Liberation Sans, sans-serif">§</text>
<polygon points="610.60,34.95 611.25,36.51 612.93,36.64 611.65,37.74 612.04,39.38 610.60,38.50 609.16,39.38 609.55,37.74 608.27,36.64 609.95,36.51" fill="#7a7a7a"/>
<path d="M644.76 46.60 V44.20 Q644.76 43.50 645.46 43.50 H659.86 Q660.56 43.50 660.56 44.20 V46.60" fill="none" stroke="#2e2e2e" stroke-width="1.15"/>
<text transform="translate(652.56 22.20) scale(1 1.1)" text-anchor="middle" font-size="9.5" fill="#2e2e2e" font-family="Liberation Sans, sans-serif">§§</text>
<polygon points="652.56,24.55 653.21,26.11 654.89,26.24 653.61,27.34 654.00,28.98 652.56,28.10 651.12,28.98 651.51,27.34 650.23,26.24 651.91,26.11" fill="#7a7a7a"/>
<path d="M652.56 35.4 V42.6 M650.76 37.4 H654.36 M650.76 41.2 H654.36" stroke="#7a7a7a" stroke-width="1.1" fill="none"/>
<path d="M665.79 46.60 V44.20 Q665.79 43.50 666.49 43.50 H680.89 Q681.59 43.50 681.59 44.20 V46.60" fill="none" stroke="#2e2e2e" stroke-width="1.15"/>
<text transform="translate(673.59 32.60) scale(1 1.1)" text-anchor="middle" font-size="9.5" fill="#2e2e2e" font-family="Liberation Sans, sans-serif">§§</text>
<path d="M673.59 35.4 V42.6 M671.79 37.4 H675.39 M671.79 41.2 H675.39" stroke="#7a7a7a" stroke-width="1.1" fill="none"/>
<text transform="translate(657.40 166.00) scale(0.74 1) skewX(-8)" text-anchor="middle" font-size="9.2" fill="#222" stroke="#222" stroke-width="0.15" font-family="Liberation Serif, serif" font-style="italic">&amp;</text>
<text transform="translate(658.00 174.10) scale(0.78 1) skewX(-12)" text-anchor="middle" font-size="9.6" fill="#222" stroke="#333" stroke-width="0.12" font-family="Liberation Serif, serif">#</text>
<text transform="translate(658.00 181.90) scale(0.78 1) skewX(-12)" text-anchor="middle" font-size="9.6" fill="#222" stroke="#333" stroke-width="0.12" font-family="Liberation Serif, serif">#</text>
<text transform="translate(679.70 151.80) scale(0.74 1) skewX(-8)" text-anchor="middle" font-size="9.2" fill="#222" stroke="#222" stroke-width="0.15" font-family="Liberation Serif, serif" font-style="italic">&amp;</text>
<text transform="translate(680.30 160.70) scale(0.78 1) skewX(-12)" text-anchor="middle" font-size="9.6" fill="#222" stroke="#333" stroke-width="0.12" font-family="Liberation Serif, serif">#</text>
<text transform="translate(680.30 168.40) scale(0.78 1) skewX(-12)" text-anchor="middle" font-size="9.6" fill="#222" stroke="#333" stroke-width="0.12" font-family="Liberation Serif, serif">#</text>
</svg>
</body></html>
